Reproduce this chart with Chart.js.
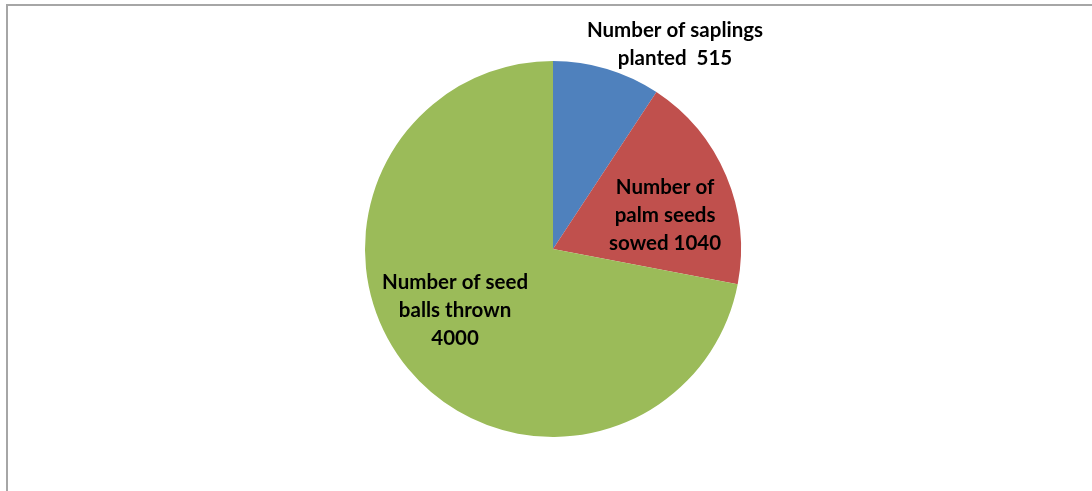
<!DOCTYPE html>
<html>
<head>
<meta charset="utf-8">
<script src="https://cdn.jsdelivr.net/npm/chart.js@4"></script>
<style>
html,body{margin:0;padding:0;background:#fff;overflow:hidden;}
#wrap{position:absolute;left:0;top:0;width:1092px;height:491px;}
</style>
</head>
<body>
<div id="wrap"><canvas id="c" width="1092" height="491"></canvas></div>
<script>
const categories = ["Number of saplings planted", "Number of palm seeds sowed", "Number of seed balls thrown"];
const values = [515, 1040, 4000];
const labelLines = [
  ["Number of saplings", "planted  515"],
  ["Number of", "palm seeds", "sowed 1040"],
  ["Number of seed", "balls thrown", "4000"]
];
const colors = ["#4F81BD", "#C0504D", "#9BBB59"];
// label anchors relative to pie centre, in units of radius
const labelAnchors = [[0.649, -1.09], [0.596, -0.18], [-0.521, 0.324]];

const frame = {
  id: 'frame',
  beforeDraw(chart) {
    const ctx = chart.ctx;
    ctx.save();
    ctx.strokeStyle = '#a6a6a6';
    ctx.lineWidth = 2;
    ctx.beginPath();
    ctx.moveTo(7, 600);
    ctx.lineTo(7, 5);
    ctx.lineTo(1200, 5);
    ctx.stroke();
    ctx.restore();
  }
};

const sliceLabels = {
  id: 'sliceLabels',
  afterDatasetsDraw(chart) {
    const ctx = chart.ctx;
    const meta = chart.getDatasetMeta(0);
    ctx.save();
    ctx.font = 'bold 20.5px Lato, "Open Sans", sans-serif';
    ctx.fillStyle = '#000';
    ctx.textAlign = 'center';
    ctx.textBaseline = 'middle';
    meta.data.forEach((arc, i) => {
      const r = arc.outerRadius;
      const cx = arc.x + labelAnchors[i][0] * r;
      const cy = arc.y + labelAnchors[i][1] * r;
      const lines = labelLines[i];
      const lh = 28;
      const y0 = cy - (lines.length - 1) * lh / 2;
      lines.forEach((t, j) => ctx.fillText(t, cx, y0 + j * lh));
    });
    ctx.restore();
  }
};

new Chart(document.getElementById('c'), {
  type: 'pie',
  data: {
    labels: categories,
    datasets: [{
      data: values,
      backgroundColor: colors,
      borderWidth: 0
    }]
  },
  options: {
    responsive: false,
    animation: false,
    layout: { padding: { top: 61, bottom: 54, left: 14, right: 0 } },
    plugins: { legend: { display: false }, tooltip: { enabled: false } }
  },
  plugins: [frame, sliceLabels]
});
</script>
</body>
</html>
